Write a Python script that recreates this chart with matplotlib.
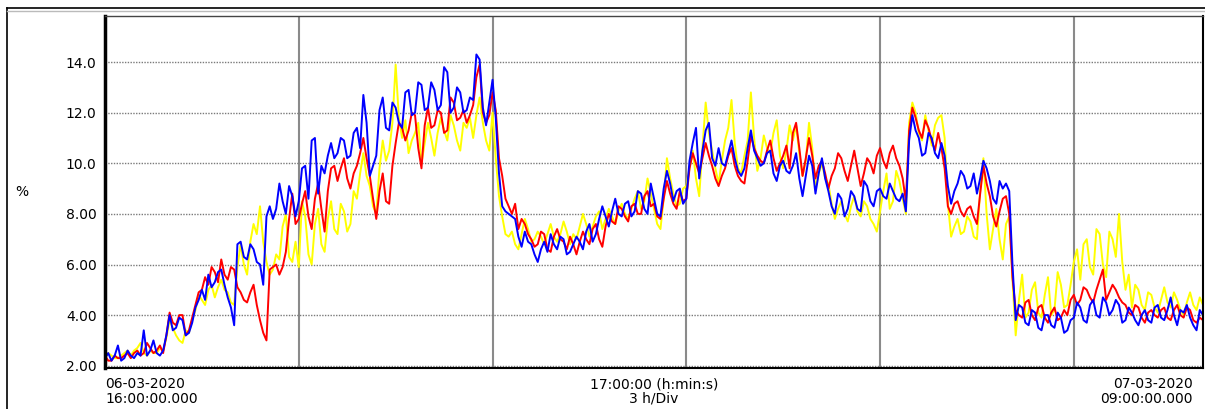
import numpy as np
import matplotlib.pyplot as plt
from matplotlib.lines import Line2D

# sample times, hours after 06-03-2020 16:00 (one sample every 3 minutes)
hours = np.round(np.arange(0, 17.01, 0.05), 2)

# one row per hour
red = [
    2.4, 2.2, 2.2, 2.4, 2.3, 2.3, 2.4, 2.5, 2.3, 2.5, 2.6, 2.4, 2.5, 2.9, 2.7, 2.5, 2.6, 2.8, 2.5, 3.2,
    4.1, 3.7, 3.6, 4.0, 4.0, 3.2, 3.4, 3.9, 4.4, 4.9, 5.0, 5.5, 5.2, 5.9, 5.7, 5.3, 6.2, 5.6, 5.4, 5.9,
    5.8, 5.1, 4.9, 4.6, 4.5, 4.9, 5.2, 4.4, 3.8, 3.3, 3.0, 5.8, 5.9, 6.0, 5.6, 5.9, 6.5, 7.8, 8.8, 7.6,
    7.8, 8.4, 8.9, 7.9, 7.4, 8.6, 9.2, 8.2, 7.3, 8.9, 9.8, 9.9, 9.3, 9.8, 10.2, 9.4, 9.0, 9.6, 9.9, 10.4,
    11.0, 10.2, 9.5, 8.6, 7.8, 8.9, 9.6, 8.5, 8.4, 9.9, 10.8, 11.6, 11.4, 10.9, 11.3, 12.0, 11.9, 10.6, 9.8, 11.5,
    12.2, 11.4, 11.5, 12.1, 12.0, 11.2, 11.3, 12.6, 12.4, 11.7, 11.8, 12.1, 11.6, 11.9, 12.3, 13.4, 13.9, 12.0, 11.6, 11.9,
    12.8, 12.1, 10.2, 9.5, 8.6, 8.3, 8.0, 8.4, 7.4, 7.8, 7.6, 7.2, 7.0, 6.7, 6.8, 7.3, 7.2, 6.6, 6.5, 7.1,
    7.4, 7.0, 6.9, 6.6, 7.1, 6.8, 6.4, 6.9, 7.3, 7.0, 6.8, 7.4, 7.6, 7.0, 6.7, 7.5, 8.0, 7.7, 7.6, 8.3,
    8.2, 7.9, 7.7, 8.3, 8.4, 8.0, 8.0, 8.7, 8.9, 8.3, 8.4, 7.9, 7.8, 8.6, 9.3, 8.8, 8.4, 8.2, 8.9, 8.5,
    8.6, 9.8, 10.4, 10.0, 9.6, 10.2, 10.8, 10.3, 9.9, 9.4, 9.1, 9.5, 9.8, 10.3, 10.6, 9.9, 9.5, 9.3, 9.2, 10.1,
    11.1, 10.6, 10.3, 10.1, 10.0, 10.5, 10.9, 10.2, 9.7, 10.0, 10.3, 10.7, 9.8, 11.2, 11.6, 10.6, 9.5, 10.2, 11.0, 10.3,
    9.4, 9.9, 10.1, 9.6, 9.0, 9.5, 9.8, 10.4, 10.2, 9.7, 9.3, 9.9, 10.5, 9.8, 9.1, 9.6, 10.2, 10.0, 9.6, 10.3,
    10.6, 10.1, 9.8, 10.4, 10.7, 10.2, 9.9, 9.4, 8.5, 11.3, 12.2, 11.8, 11.3, 11.0, 11.7, 11.4, 10.9, 10.5, 11.2, 10.6,
    9.8, 8.3, 8.0, 8.4, 8.5, 8.1, 7.9, 8.2, 8.3, 7.9, 7.6, 8.8, 9.9, 9.2, 8.7, 7.9, 7.5, 8.1, 8.6, 8.7,
    8.0, 5.5, 4.2, 4.0, 3.9, 4.5, 4.6, 4.0, 3.8, 4.3, 4.4, 3.9, 3.7, 4.1, 4.3, 3.8, 3.9, 4.2, 4.0, 4.6,
    4.8, 4.4, 4.6, 5.1, 5.0, 4.7, 4.5, 5.0, 5.4, 5.8, 4.6, 4.9, 5.2, 5.0, 4.7, 4.5, 4.4, 4.1, 4.0, 4.4,
    4.3, 3.9, 3.7, 4.1, 4.2, 4.0, 3.9, 4.2, 4.3, 3.9, 3.8, 4.2, 4.4, 4.0, 3.9, 4.3, 4.2, 3.8, 3.7, 3.9,
    3.8,
]

yellow = [
    2.3, 2.5, 2.4, 2.3, 2.3, 2.4, 2.5, 2.6, 2.4, 2.6, 2.7, 2.9, 2.5, 2.4, 2.6, 2.5, 2.5, 2.7, 2.6, 3.1,
    3.8, 3.5, 3.2, 3.0, 2.9, 3.4, 3.3, 3.8, 4.2, 4.8, 4.6, 4.4, 5.0, 5.2, 4.7, 5.1, 5.4, 5.0, 4.9, 4.5,
    4.4, 5.9, 6.8, 6.0, 5.6, 6.9, 7.6, 7.2, 8.3, 6.9, 6.1, 5.6, 5.8, 6.4, 6.2, 7.5, 8.0, 6.3, 6.1, 6.9,
    5.9, 8.5, 7.9, 6.4, 6.0, 7.6, 8.2, 6.8, 6.5, 7.8, 8.5, 7.4, 7.2, 8.4, 8.1, 7.3, 7.6, 8.9, 8.6, 9.6,
    10.4, 9.5, 9.1, 8.3, 8.0, 9.8, 10.9, 10.1, 10.5, 11.6, 13.9, 11.8, 11.0, 11.7, 10.4, 10.9, 11.2, 11.6, 10.0, 10.8,
    11.6, 11.0, 10.3, 11.2, 11.8, 11.3, 10.9, 11.9, 11.5, 10.9, 10.5, 11.6, 11.4, 11.8, 11.0, 11.9, 12.6, 11.6, 10.9, 10.5,
    12.0, 10.2, 8.7, 7.9, 7.2, 7.1, 7.3, 6.8, 6.6, 7.2, 7.8, 7.4, 6.9, 7.0, 7.3, 7.1, 6.8, 7.2, 7.6, 7.1,
    6.9, 7.2, 7.7, 7.3, 6.8, 7.2, 7.0, 7.5, 8.0, 7.6, 7.1, 7.5, 7.9, 8.1, 7.4, 7.8, 8.2, 7.9, 7.6, 8.1,
    8.4, 8.0, 7.8, 8.2, 8.6, 8.9, 8.2, 8.5, 9.4, 8.8, 8.2, 7.6, 7.4, 8.6, 10.2, 9.4, 8.8, 8.3, 8.4, 9.0,
    9.1, 9.8, 10.5, 9.4, 8.7, 10.6, 12.4, 11.2, 10.5, 9.8, 9.2, 10.1, 10.9, 11.4, 12.5, 10.8, 9.8, 9.6, 10.3, 10.9,
    12.8, 11.0, 9.7, 10.2, 11.1, 10.6, 10.4, 11.2, 11.7, 10.3, 9.8, 10.5, 11.5, 10.9, 11.5, 10.4, 9.5, 10.1, 11.6, 10.6,
    9.0, 9.6, 10.0, 9.4, 9.2, 8.4, 7.8, 8.2, 8.5, 8.0, 7.7, 8.3, 8.7, 8.1, 7.9, 8.5, 8.3, 7.8, 7.6, 7.3,
    8.1, 8.9, 9.6, 8.2, 8.5, 9.7, 9.3, 8.6, 8.0, 11.6, 12.4, 12.0, 11.2, 10.9, 11.9, 11.3, 10.7, 11.5, 11.8, 11.9,
    11.0, 8.4, 7.1, 7.5, 7.8, 7.2, 7.3, 7.9, 7.7, 7.1, 7.0, 8.9, 10.2, 8.0, 6.6, 7.4, 8.2, 7.0, 6.2, 7.6,
    7.9, 5.4, 3.2, 4.6, 5.6, 3.9, 4.1, 5.0, 5.3, 4.1, 3.9, 4.8, 5.5, 4.0, 4.2, 5.7, 5.2, 4.3, 4.4, 5.2,
    6.1, 6.6, 5.4, 6.8, 7.0, 5.9, 5.6, 7.4, 7.2, 6.0, 5.5, 7.3, 7.0, 6.3, 8.0, 6.1, 5.0, 5.6, 4.3, 5.2,
    5.0, 4.4, 4.2, 4.9, 4.8, 4.3, 4.1, 4.6, 5.1, 4.5, 4.3, 4.9, 4.6, 4.2, 4.0, 4.5, 4.9, 4.4, 4.2, 4.7,
    4.4,
]

blue = [
    2.3, 2.5, 2.2, 2.4, 2.8, 2.2, 2.3, 2.6, 2.4, 2.3, 2.5, 2.4, 3.4, 2.4, 2.6, 3.0, 2.5, 2.4, 2.6, 3.2,
    4.0, 3.4, 3.5, 3.9, 3.8, 3.2, 3.3, 3.7, 4.3, 4.6, 5.0, 4.6, 5.6, 5.1, 5.3, 5.7, 5.8, 5.2, 4.7, 4.3,
    3.6, 6.8, 6.9, 6.3, 6.2, 6.8, 6.6, 6.1, 6.0, 5.2, 7.9, 8.3, 7.8, 8.2, 9.2, 8.5, 8.0, 9.1, 8.7, 7.9,
    8.5, 9.8, 9.9, 8.6, 10.9, 11.0, 8.8, 9.9, 9.6, 10.3, 10.8, 10.2, 10.4, 11.0, 10.9, 10.2, 10.3, 11.2, 11.4, 10.6,
    12.7, 11.6, 9.5, 9.9, 10.3, 12.1, 12.6, 11.4, 11.3, 12.4, 12.2, 11.6, 11.4, 12.8, 12.9, 11.9, 12.0, 13.2, 13.1, 12.1,
    12.2, 13.2, 12.9, 12.1, 12.3, 13.8, 13.6, 12.0, 12.2, 13.0, 12.8, 12.0, 12.1, 12.6, 12.5, 14.3, 14.1, 12.2, 11.5, 12.4,
    13.3, 11.8, 9.6, 8.3, 8.1, 8.0, 7.9, 7.8, 7.1, 6.7, 7.3, 6.9, 6.8, 6.4, 6.1, 6.6, 6.9, 6.5, 7.2, 6.8,
    6.6, 7.1, 7.0, 6.4, 6.5, 6.8, 7.1, 6.9, 6.6, 7.3, 7.6, 6.9, 7.2, 7.8, 8.3, 7.9, 7.5, 8.1, 8.6, 8.0,
    7.9, 8.4, 8.5, 7.9, 8.1, 8.9, 8.8, 8.2, 8.0, 9.2, 8.6, 8.0, 7.9, 9.0, 9.7, 9.2, 8.5, 8.9, 9.0, 8.4,
    8.6, 10.1, 10.8, 11.4, 9.4, 10.5, 11.3, 11.6, 10.2, 9.9, 10.6, 10.0, 9.9, 10.4, 10.9, 10.2, 9.7, 9.5, 9.8, 10.6,
    11.3, 10.5, 10.2, 9.9, 10.0, 10.4, 10.5, 9.6, 9.3, 9.9, 10.1, 9.7, 9.6, 9.9, 10.4, 9.4, 8.7, 9.5, 10.3, 9.9,
    8.8, 9.6, 10.2, 9.4, 8.9, 8.3, 8.0, 8.8, 8.6, 7.9, 8.2, 8.9, 8.7, 8.2, 8.1, 9.3, 9.1, 8.5, 8.3, 8.9,
    9.0, 8.7, 8.6, 9.2, 8.9, 8.6, 8.5, 8.8, 8.1, 10.9, 11.9, 11.3, 11.0, 10.3, 10.4, 11.2, 11.0, 10.4, 10.2, 10.8,
    10.3, 9.1, 8.4, 8.9, 9.2, 9.7, 9.5, 9.0, 9.1, 9.6, 8.8, 9.4, 10.1, 9.8, 9.3, 8.6, 8.4, 9.3, 9.0, 9.2,
    8.9, 6.0, 3.8, 4.4, 4.3, 3.7, 3.6, 4.2, 4.1, 3.5, 3.4, 4.0, 4.0, 3.6, 3.5, 4.1, 3.9, 3.3, 3.4, 3.8,
    3.9, 4.5, 4.3, 3.8, 3.7, 4.4, 4.6, 4.0, 3.9, 4.7, 4.5, 4.0, 4.2, 4.6, 4.4, 3.7, 3.8, 4.3, 4.1, 3.8,
    3.6, 4.0, 4.2, 3.8, 3.7, 4.3, 4.4, 3.9, 3.8, 4.2, 4.7, 4.0, 3.6, 4.2, 4.1, 4.4, 3.9, 3.6, 3.4, 4.2,
    4.0,
]

ytick_vals = [2, 4, 6, 8, 10, 12, 14]
ytick_labels = ["2.00", "4.00", "6.00", "8.00", "10.0", "12.0", "14.0"]
xgrid = [3, 6, 9, 12, 15]

plt.rcParams['font.family'] = ['DejaVu Sans']

fig = plt.figure(figsize=(12.05, 4.09), dpi=100)
ax = fig.add_axes([105 / 1205, 41 / 409, 1098 / 1205, 352 / 409])

ax.plot(hours, yellow, color='#ffff00', lw=1.4)
ax.plot(hours, red, color='#ff0000', lw=1.4)
ax.plot(hours, blue, color='#0000ff', lw=1.4)

ax.set_xlim(0, 17)
ax.set_ylim(1.91, 15.82)

# grid: solid verticals every 3 h, dotted horizontals every 2 %
for xv in xgrid:
    ax.axvline(xv, color='#8a8a8a', lw=1.5, zorder=0)
for yv in ytick_vals:
    ax.axhline(yv, color='#7a7a7a', lw=1.0, ls=(0, (1, 1)), zorder=0)

ax.set_xticks([])
ax.set_yticks(ytick_vals)
ax.set_yticklabels(ytick_labels, fontsize=10)
ax.tick_params(axis='y', length=0, pad=6)

ax.spines['left'].set_linewidth(2.5)
ax.spines['bottom'].set_linewidth(1.5)
ax.spines['right'].set_linewidth(1.5)
ax.spines['top'].set_linewidth(1.0)
ax.spines['top'].set_color('#444444')

fig.text(22 / 1205, 1 - 192 / 409, "%", fontsize=10, ha='center', va='center')

# time axis labels
y1 = 1 - 384 / 409
y2 = 1 - 399 / 409
fig.text(105 / 1205, y1, "06-03-2020", fontsize=10, ha='left', va='center')
fig.text(105 / 1205, y2, "16:00:00.000", fontsize=10, ha='left', va='center')
fig.text(654 / 1205, y1, "17:00:00 (h:min:s)", fontsize=10, ha='center', va='center')
fig.text(654 / 1205, y2, "3 h/Div", fontsize=10, ha='center', va='center')
fig.text(1193 / 1205, y1, "07-03-2020", fontsize=10, ha='right', va='center')
fig.text(1193 / 1205, y2, "09:00:00.000", fontsize=10, ha='right', va='center')

# outer frame
fig.add_artist(Line2D([7 / 1205, 7 / 1205], [0, 1 - 8 / 409], color='black', lw=1.2))
fig.add_artist(Line2D([7 / 1205, 1], [1 - 8 / 409, 1 - 8 / 409], color='black', lw=1.2))
fig.add_artist(Line2D([7 / 1205, 1], [1 - 10.5 / 409, 1 - 10.5 / 409], color='#bbbbbb', lw=1.0))

fig.savefig("out.png", dpi=100)
